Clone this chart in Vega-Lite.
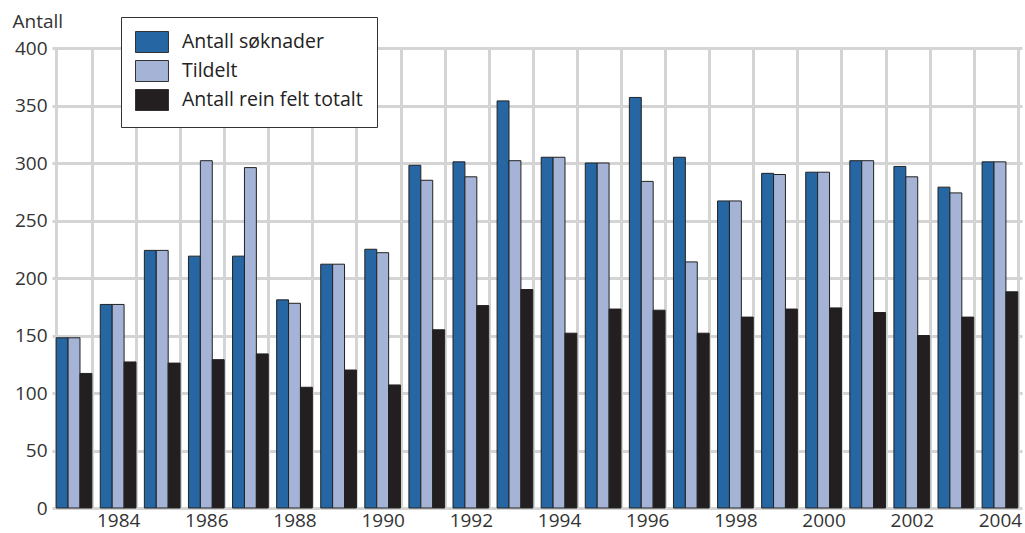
{
  "$schema": "https://vega.github.io/schema/vega-lite/v6.json",
  "autosize": {"type": "none"},
  "padding": {"left": 52, "top": 48, "right": 3, "bottom": 25},
  "width": 970,
  "height": 460,
  "background": "white",
  "config": {
    "view": {"stroke": null},
    "font": "Open Sans",
    "axis": {"labelFont": "Open Sans", "labelFontSize": 19, "labelColor": "#333333", "titleFont": "Open Sans", "titleFontSize": 19, "titleFontWeight": "normal", "titleColor": "#333333"},
    "legend": {"labelFont": "Open Sans", "labelFontSize": 19.5, "labelColor": "#222222", "labelLimit": 400}
  },
  "data": {
    "values": [
      {"year": 1983, "serie": "Antall søknader", "value": 148},
      {"year": 1983, "serie": "Tildelt", "value": 148},
      {"year": 1983, "serie": "Antall rein felt totalt", "value": 117},
      {"year": 1984, "serie": "Antall søknader", "value": 177},
      {"year": 1984, "serie": "Tildelt", "value": 177},
      {"year": 1984, "serie": "Antall rein felt totalt", "value": 127},
      {"year": 1985, "serie": "Antall søknader", "value": 224},
      {"year": 1985, "serie": "Tildelt", "value": 224},
      {"year": 1985, "serie": "Antall rein felt totalt", "value": 126},
      {"year": 1986, "serie": "Antall søknader", "value": 219},
      {"year": 1986, "serie": "Tildelt", "value": 302},
      {"year": 1986, "serie": "Antall rein felt totalt", "value": 129},
      {"year": 1987, "serie": "Antall søknader", "value": 219},
      {"year": 1987, "serie": "Tildelt", "value": 296},
      {"year": 1987, "serie": "Antall rein felt totalt", "value": 134},
      {"year": 1988, "serie": "Antall søknader", "value": 181},
      {"year": 1988, "serie": "Tildelt", "value": 178},
      {"year": 1988, "serie": "Antall rein felt totalt", "value": 105},
      {"year": 1989, "serie": "Antall søknader", "value": 212},
      {"year": 1989, "serie": "Tildelt", "value": 212},
      {"year": 1989, "serie": "Antall rein felt totalt", "value": 120},
      {"year": 1990, "serie": "Antall søknader", "value": 225},
      {"year": 1990, "serie": "Tildelt", "value": 222},
      {"year": 1990, "serie": "Antall rein felt totalt", "value": 107},
      {"year": 1991, "serie": "Antall søknader", "value": 298},
      {"year": 1991, "serie": "Tildelt", "value": 285},
      {"year": 1991, "serie": "Antall rein felt totalt", "value": 155},
      {"year": 1992, "serie": "Antall søknader", "value": 301},
      {"year": 1992, "serie": "Tildelt", "value": 288},
      {"year": 1992, "serie": "Antall rein felt totalt", "value": 176},
      {"year": 1993, "serie": "Antall søknader", "value": 354},
      {"year": 1993, "serie": "Tildelt", "value": 302},
      {"year": 1993, "serie": "Antall rein felt totalt", "value": 190},
      {"year": 1994, "serie": "Antall søknader", "value": 305},
      {"year": 1994, "serie": "Tildelt", "value": 305},
      {"year": 1994, "serie": "Antall rein felt totalt", "value": 152},
      {"year": 1995, "serie": "Antall søknader", "value": 300},
      {"year": 1995, "serie": "Tildelt", "value": 300},
      {"year": 1995, "serie": "Antall rein felt totalt", "value": 173},
      {"year": 1996, "serie": "Antall søknader", "value": 357},
      {"year": 1996, "serie": "Tildelt", "value": 284},
      {"year": 1996, "serie": "Antall rein felt totalt", "value": 172},
      {"year": 1997, "serie": "Antall søknader", "value": 305},
      {"year": 1997, "serie": "Tildelt", "value": 214},
      {"year": 1997, "serie": "Antall rein felt totalt", "value": 152},
      {"year": 1998, "serie": "Antall søknader", "value": 267},
      {"year": 1998, "serie": "Tildelt", "value": 267},
      {"year": 1998, "serie": "Antall rein felt totalt", "value": 166},
      {"year": 1999, "serie": "Antall søknader", "value": 291},
      {"year": 1999, "serie": "Tildelt", "value": 290},
      {"year": 1999, "serie": "Antall rein felt totalt", "value": 173},
      {"year": 2000, "serie": "Antall søknader", "value": 292},
      {"year": 2000, "serie": "Tildelt", "value": 292},
      {"year": 2000, "serie": "Antall rein felt totalt", "value": 174},
      {"year": 2001, "serie": "Antall søknader", "value": 302},
      {"year": 2001, "serie": "Tildelt", "value": 302},
      {"year": 2001, "serie": "Antall rein felt totalt", "value": 170},
      {"year": 2002, "serie": "Antall søknader", "value": 297},
      {"year": 2002, "serie": "Tildelt", "value": 288},
      {"year": 2002, "serie": "Antall rein felt totalt", "value": 150},
      {"year": 2003, "serie": "Antall søknader", "value": 279},
      {"year": 2003, "serie": "Tildelt", "value": 274},
      {"year": 2003, "serie": "Antall rein felt totalt", "value": 166},
      {"year": 2004, "serie": "Antall søknader", "value": 301},
      {"year": 2004, "serie": "Tildelt", "value": 301},
      {"year": 2004, "serie": "Antall rein felt totalt", "value": 188}
    ]
  },
  "mark": {"type": "bar", "stroke": "#222222", "strokeWidth": 1},
  "encoding": {
    "x": {
      "field": "year", "type": "ordinal",
      "scale": {"paddingInner": 0.19, "paddingOuter": 0.095},
      "axis": {
        "title": null, "labelAngle": 0, "ticks": false, "domain": false,
        "grid": true, "gridColor": "#d4d4d4", "gridWidth": 3,
        "tickBand": "extent", "labelPadding": 3,
        "labelExpr": "datum.value % 2 == 0 ? datum.label : ''"
      }
    },
    "xOffset": {"field": "serie", "sort": ["Antall søknader", "Tildelt", "Antall rein felt totalt"]},
    "y": {
      "field": "value", "type": "quantitative",
      "scale": {"domain": [0, 400], "nice": false},
      "axis": {
        "title": "Antall", "titleAngle": 0, "titleAlign": "left", "titleBaseline": "alphabetic",
        "titleX": -40, "titleY": -21,
        "values": [0, 50, 100, 150, 200, 250, 300, 350, 400],
        "ticks": false, "domain": false, "labelPadding": 5,
        "grid": true, "gridColor": "#d4d4d4", "gridWidth": 3
      }
    },
    "color": {
      "field": "serie", "type": "nominal",
      "sort": ["Antall søknader", "Tildelt", "Antall rein felt totalt"],
      "scale": {"domain": ["Antall søknader", "Tildelt", "Antall rein felt totalt"], "range": ["#2566a3", "#a4b3d6", "#231f20"]},
      "legend": {
        "title": null, "orient": "none", "legendX": 69, "legendY": -31,
        "fillColor": "white", "strokeColor": "#333333", "padding": 14,
        "symbolType": "M-1.57,-1L1.57,-1L1.57,1L-1.57,1Z", "symbolSize": 441,
        "symbolStrokeColor": "#333333", "symbolStrokeWidth": 1, "symbolOpacity": 1,
        "symbolOffset": 6, "labelOffset": 19, "rowPadding": 3
      }
    }
  }
}
